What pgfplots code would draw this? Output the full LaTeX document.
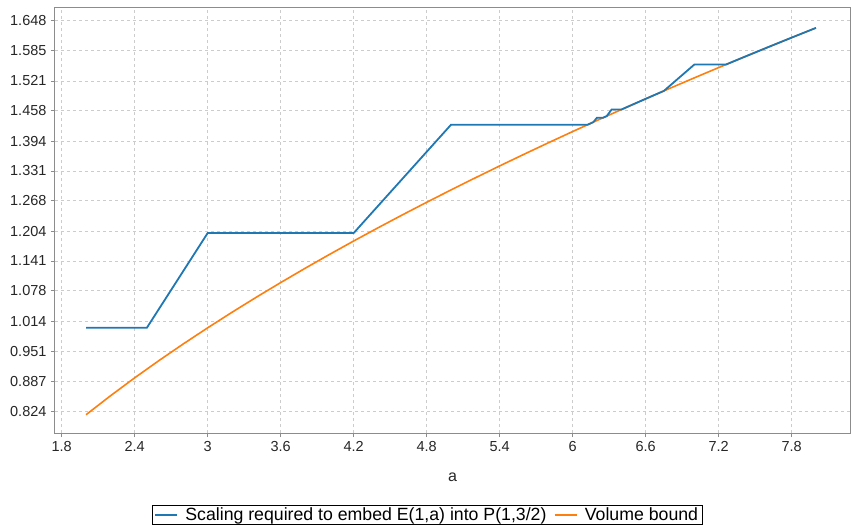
\documentclass[border=0pt]{standalone}
\usepackage{pgfplots}
\pgfplotsset{compat=1.18}
\usepackage{fontspec}
\setmainfont{Liberation Sans}
\definecolor{cblue}{HTML}{1F77B4}
\definecolor{corange}{HTML}{FF7F0E}
\definecolor{axgray}{HTML}{8C8C8C}
\definecolor{gridgray}{HTML}{CCCCCC}
\definecolor{txt}{HTML}{262626}
\begin{document}
\begin{tikzpicture}
\path[use as bounding box] (-55pt,-94pt) rectangle (796pt,433pt);
\begin{axis}[
  scale only axis,
  width=795pt, height=425pt,
  at={(0,0)}, anchor=south west,
  xmin=1.745, xmax=8.28,
  ymin=0.778, ymax=1.675,
  xtick={1.8,2.4,3,3.6,4.2,4.8,5.4,6,6.6,7.2,7.8},
  xticklabels={1.8,2.4,3,3.6,4.2,4.8,5.4,6,6.6,7.2,7.8},
  ytick={0.824,0.887,0.951,1.014,1.078,1.141,1.204,1.268,1.331,1.394,1.458,1.521,1.585,1.648},
  yticklabels={0.824,0.887,0.951,1.014,1.078,1.141,1.204,1.268,1.331,1.394,1.458,1.521,1.585,1.648},
  grid=major,
  major grid style={gridgray, dash pattern=on 3pt off 3pt, line width=0.8pt},
  axis line style={axgray, line width=1pt},
  tick style={axgray, line width=0.8pt},
  tick align=outside,
  major tick length=4pt,
  xtick pos=bottom, ytick pos=left,
  tick label style={font=\fontsize{14.5}{16}\selectfont, text=txt},
  xticklabel style={yshift=-1pt},
  yticklabel style={xshift=-1pt},
  xlabel={a},
  xlabel style={font=\fontsize{16}{18}\selectfont, text=txt, at={(axis description cs:0.5,-0.103)}, anchor=center},
  legend columns=2,
  reverse legend,
  legend style={at={(axis description cs:0.4686,-0.193)}, anchor=center,
    draw=black, line width=0.8pt, font=\fontsize{17.7}{19}\selectfont,
    inner xsep=2pt, inner ysep=1pt, column sep=5pt, text=black,
    nodes={inner xsep=2.5pt, inner ysep=1.5pt}},
  legend image code/.code={\draw[#1, line width=1.4pt] (0pt,0pt) -- (22pt,0pt);},
]
\addplot[corange, line width=1.6pt] coordinates {
(2.0,0.81650)(2.2,0.85635)(2.4,0.89443)(2.6,0.93095)(2.8,0.96609)(3.0,1.00000)
(3.2,1.03280)(3.4,1.06458)(3.6,1.09545)(3.8,1.12546)(4.0,1.15470)(4.2,1.18322)
(4.4,1.21106)(4.6,1.23828)(4.8,1.26491)(5.0,1.29099)(5.2,1.31656)(5.4,1.34164)
(5.6,1.36626)(5.8,1.39044)(6.0,1.41421)(6.2,1.43759)(6.4,1.46059)(6.6,1.48324)
(6.8,1.50555)(7.0,1.52753)(7.2,1.54919)(7.4,1.57056)(7.6,1.59164)(7.8,1.61245)
(8.0,1.63299)};
\addlegendentry{Volume bound}
\addplot[cblue, line width=1.8pt] coordinates {
(2.0,1.0)(2.5,1.0)(3.0,1.2)(4.2,1.2)(5.0,1.42857)(6.1224,1.42857)
(6.17,1.4341)(6.20,1.4434)(6.25,1.4434)(6.28,1.4468)(6.32,1.4606)(6.40,1.4606)
(6.45,1.4663)(6.5,1.47196)(6.6,1.48324)(6.7,1.49444)(6.75,1.5)(7.0,1.55556)
(7.2593,1.55556)(7.4,1.57056)(7.6,1.59164)(7.8,1.61245)(8.0,1.63299)};
\addlegendentry{Scaling required to embed E(1,a) into P(1,3/2)}
\end{axis}
\end{tikzpicture}
\end{document}
